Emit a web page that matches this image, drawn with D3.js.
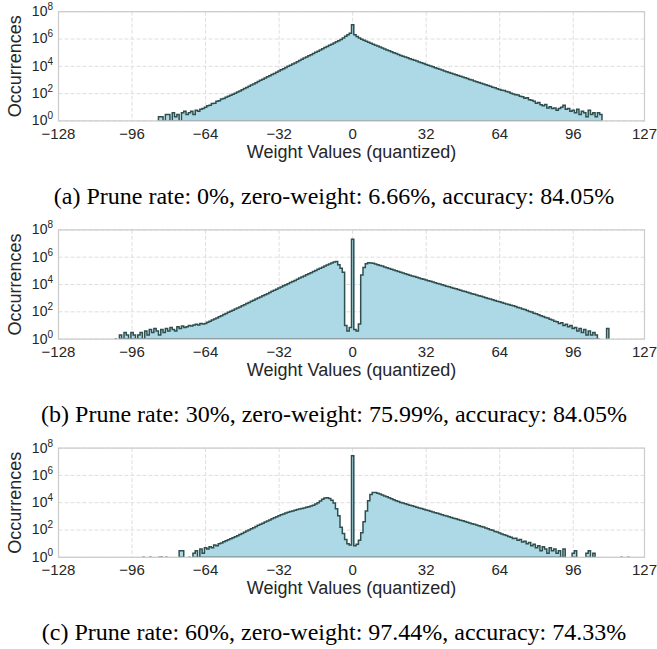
<!DOCTYPE html>
<meta charset="utf-8">
<style>
body { margin: 0; background: #fff; }
svg { display: block; }
.lbl { font-family: "Liberation Sans", Arial, sans-serif; fill: #262626; }
.grid line { stroke: #dedede; stroke-width: 1; stroke-dasharray: 4,2; }
.caption { font-family: "Liberation Serif", "Times New Roman", serif; font-size: 24px; fill: #000; }
</style>
<body>
<script src="https://d3js.org/d3.v7.min.js"></script>
<script>

// tick labels
var xTicks = [-128, -96, -64, -32, 0, 32, 64, 96, 127];
var yTicks = [1, 1e2, 1e4, 1e6, 1e8];

var captions = [
    "(a) Prune rate: 0%, zero-weight: 6.66%, accuracy: 84.05%",
    "(b) Prune rate: 30%, zero-weight: 75.99%, accuracy: 84.05%",
    "(c) Prune rate: 60%, zero-weight: 97.44%, accuracy: 74.33%"
];

// occurrences per quantized weight value, first value = weight startX
var startA = -84;
var countsA = [
    2,2,1,3,3,1,4,2,3,1,4,5,3,4,5,3,6,5,7,8,
    10,13,14,19,20,28,30,40,43,55,
    63,76,89,107,129,158,190,234,282,347,
    427,513,631,759,933,1120,1380,1700,2040,2510,
    3020,3720,4470,5500,6610,8130,10000,12000,14800,17800,
    21900,26900,32400,39800,47900,58900,70800,87100,105000,129000,
    158000,191000,234000,282000,347000,417000,513000,631000,759000,933000,
    1200000,1580000,2090000,2690000,
    11200000,
    2090000,1510000,1170000,955000,794000,676000,575000,490000,417000,355000,
    302000,257000,219000,186000,158000,135000,115000,97700,85100,72400,
    63100,55000,47900,41700,36300,31600,27500,24000,20900,18200,
    15800,13800,12000,10500,9120,7940,6920,6030,5250,4570,
    3980,3550,3090,2690,2400,2090,1860,1620,1450,1260,
    1100,977,851,741,661,575,501,437,389,339,
    295,263,229,200,
    178,166,141,132,107,95,83,79,63,60,
    46,50,35,32,28,20,22,15,13,16,
    9,11,8,9,6,8,10,14,7,8,
    5,6,4,7,3,5,4,2,6,3,
    4,2,4,3
];

var startB = -103;
var countsB = [
    1,0,2,1,3,2,1,3,2,1,
    2,3,1,4,2,5,3,6,4,2,
    5,3,6,4,7,5,4,8,6,9,
    7,8,10,9,11,12,11,14,13,
    14,17,20,25,30,35,44,52,63,76,
    91,110,132,158,191,229,275,331,407,490,
    589,708,851,1020,1230,1480,1780,2140,2570,3160,
    3800,4570,5500,6610,7940,9550,11500,13800,16600,20000,
    24500,29500,35500,42700,51300,61700,74100,89100,107000,129000,
    155000,186000,224000,269000,324000,380000,437000,479000,282000,158000,
    79400,10,4,7,
    20900000,
    5,4,13,50100,178000,331000,398000,380000,
    355000,316000,282000,251000,224000,195000,170000,148000,132000,115000,
    100000,89100,77600,69200,60300,53700,47900,42700,38000,33900,
    30200,26900,24000,21400,19100,17000,15100,13500,12000,10700,
    9550,8510,7590,6760,6030,5370,4790,4270,3800,3390,
    3020,2690,2400,2140,1910,1700,1510,1350,1200,1070,
    955,851,759,676,603,537,479,427,380,339,
    302,282,240,209,186,158,145,126,105,95,
    79,71,60,52,46,38,35,28,25,20,
    19,14,16,10,12,8,10,6,7,4,
    6,3,5,2,4,2,3,2,1,0,
    0,0,6
];

var startC = -91;
var countsC = [
    1,0,0,1,0,0,0,1,1,0,
    1,0,0,0,0,0,3,3,0,0,
    1,0,2,3,1,4,2,
    5,4,6,5,8,7,10,11,14,16,
    19,23,27,32,38,46,56,68,83,100,
    123,148,182,219,263,316,380,457,550,661,
    794,933,1100,1290,1510,1740,2000,2240,2510,2820,
    3160,3470,3800,4170,4570,5010,5620,6610,7940,10000,
    13200,17800,21900,22900,20000,15100,9330,3550,1120,158,
    56,20,10,8,
    27500000,
    7,9,18,63,398,2510,14100,39800,56200,55000,50100,
    43700,37200,31600,26900,22900,19500,16600,14100,12000,10500,
    9330,8320,7410,6610,5890,5250,4680,4170,3720,3310,
    2950,2630,2340,2090,1860,1660,1480,1320,1170,1050,
    933,832,741,661,589,525,468,417,372,331,
    288,263,229,209,178,166,138,126,105,95,
    79,71,60,52,45,40,33,30,24,25,
    18,20,13,15,10,12,7,9,5,7,
    3,6,4,2,5,3,4,2,3,1,
    4,0,0,0,2,3,0,0,0,0,
    2,3,0,2,0,0,0,0,0,0,
    0,0,0,0,0,1,0,0,1
];

var panels = [
    {start: startA, counts: countsA},
    {start: startB, counts: countsB},
    {start: startC, counts: countsC}
];

var largeur = 657, hauteur = 649;
var plotLeft = 58.5, plotRight = 644.5;
var plotH = 109.2;
var firstTop = 11.7, step = 218.2;

var svg = d3.select("body").append("svg")
    .attr("width", largeur)
    .attr("height", hauteur);

var x = d3.scaleLinear().domain([-128, 127]).range([plotLeft, plotRight]);
var y = d3.scaleLog().domain([1, 1e8]).range([plotH, 0]);

// groups of consecutive non-zero bins
function runs(start, counts) {
    var out = [], cur = null;
    counts.forEach(function(c, i) {
        if (c > 0) {
            if (!cur) { cur = []; out.push(cur); }
            cur.push([start + i, c]);
        } else {
            cur = null;
        }
    });
    return out;
}

var line = d3.line();

panels.forEach(function(p, i) {
    var g = svg.append("g")
        .attr("transform", "translate(0," + (firstTop + i * step) + ")");

    g.append("clipPath")
        .attr("id", "clip" + i)
      .append("rect")
        .attr("x", plotLeft)
        .attr("y", 0)
        .attr("width", plotRight - plotLeft)
        .attr("height", plotH);

    // grid
    var grid = g.append("g").attr("class", "grid");
    grid.selectAll(".gx").data(xTicks).enter().append("line")
        .attr("x1", d => x(d)).attr("x2", d => x(d))
        .attr("y1", 0).attr("y2", plotH);
    grid.selectAll(".gy").data(yTicks).enter().append("line")
        .attr("x1", plotLeft).attr("x2", plotRight)
        .attr("y1", d => y(d)).attr("y2", d => y(d));

    // histogram
    runs(p.start, p.counts).forEach(function(r) {
        var pts = [[x(r[0][0] - 0.5), y(1)]];
        r.forEach(function(b) {
            pts.push([x(b[0] - 0.5), y(b[1])]);
            pts.push([x(b[0] + 0.5), y(b[1])]);
        });
        pts.push([x(r[r.length - 1][0] + 0.5), y(1)]);
        g.append("path")
            .attr("clip-path", "url(#clip" + i + ")")
            .attr("d", line(pts) + "Z")
            .style("fill", "#add8e6")
            .style("stroke", "#2f4f4f")
            .style("stroke-width", 1.5)
            .style("stroke-linejoin", "miter");
    });

    // frame
    g.append("rect")
        .attr("x", plotLeft).attr("y", 0)
        .attr("width", plotRight - plotLeft).attr("height", plotH)
        .style("fill", "none")
        .style("stroke", "#cccccc")
        .style("stroke-width", 1.25);

    // x tick labels
    g.selectAll(".xt").data(xTicks).enter().append("text")
        .attr("class", "lbl")
        .attr("x", d => x(d))
        .attr("y", plotH + 18)
        .attr("text-anchor", "middle")
        .style("font-size", "15px")
        .text(d => d < 0 ? "\u2212" + (-d) : d);

    // y tick labels 10^n
    var yt = g.selectAll(".yt").data(yTicks).enter().append("text")
        .attr("class", "lbl")
        .attr("x", 53)
        .attr("y", d => y(d) + 4.5)
        .attr("text-anchor", "end")
        .style("font-size", "14px");
    yt.append("tspan").text("10");
    yt.append("tspan")
        .attr("dy", -6)
        .style("font-size", "10px")
        .text(d => Math.round(Math.log10(d)));

    g.append("text")
        .attr("class", "lbl")
        .attr("transform", "translate(21," + (plotH / 2) + ") rotate(-90)")
        .attr("text-anchor", "middle")
        .style("font-size", "18px")
        .text("Occurrences");

    g.append("text")
        .attr("class", "lbl")
        .attr("x", (plotLeft + plotRight) / 2)
        .attr("y", plotH + 37)
        .attr("text-anchor", "middle")
        .style("font-size", "18px")
        .text("Weight Values (quantized)");

    g.append("text")
        .attr("class", "caption")
        .attr("x", 334)
        .attr("y", plotH + 83)
        .attr("text-anchor", "middle")
        .text(captions[i]);
});

</script>
</body>
